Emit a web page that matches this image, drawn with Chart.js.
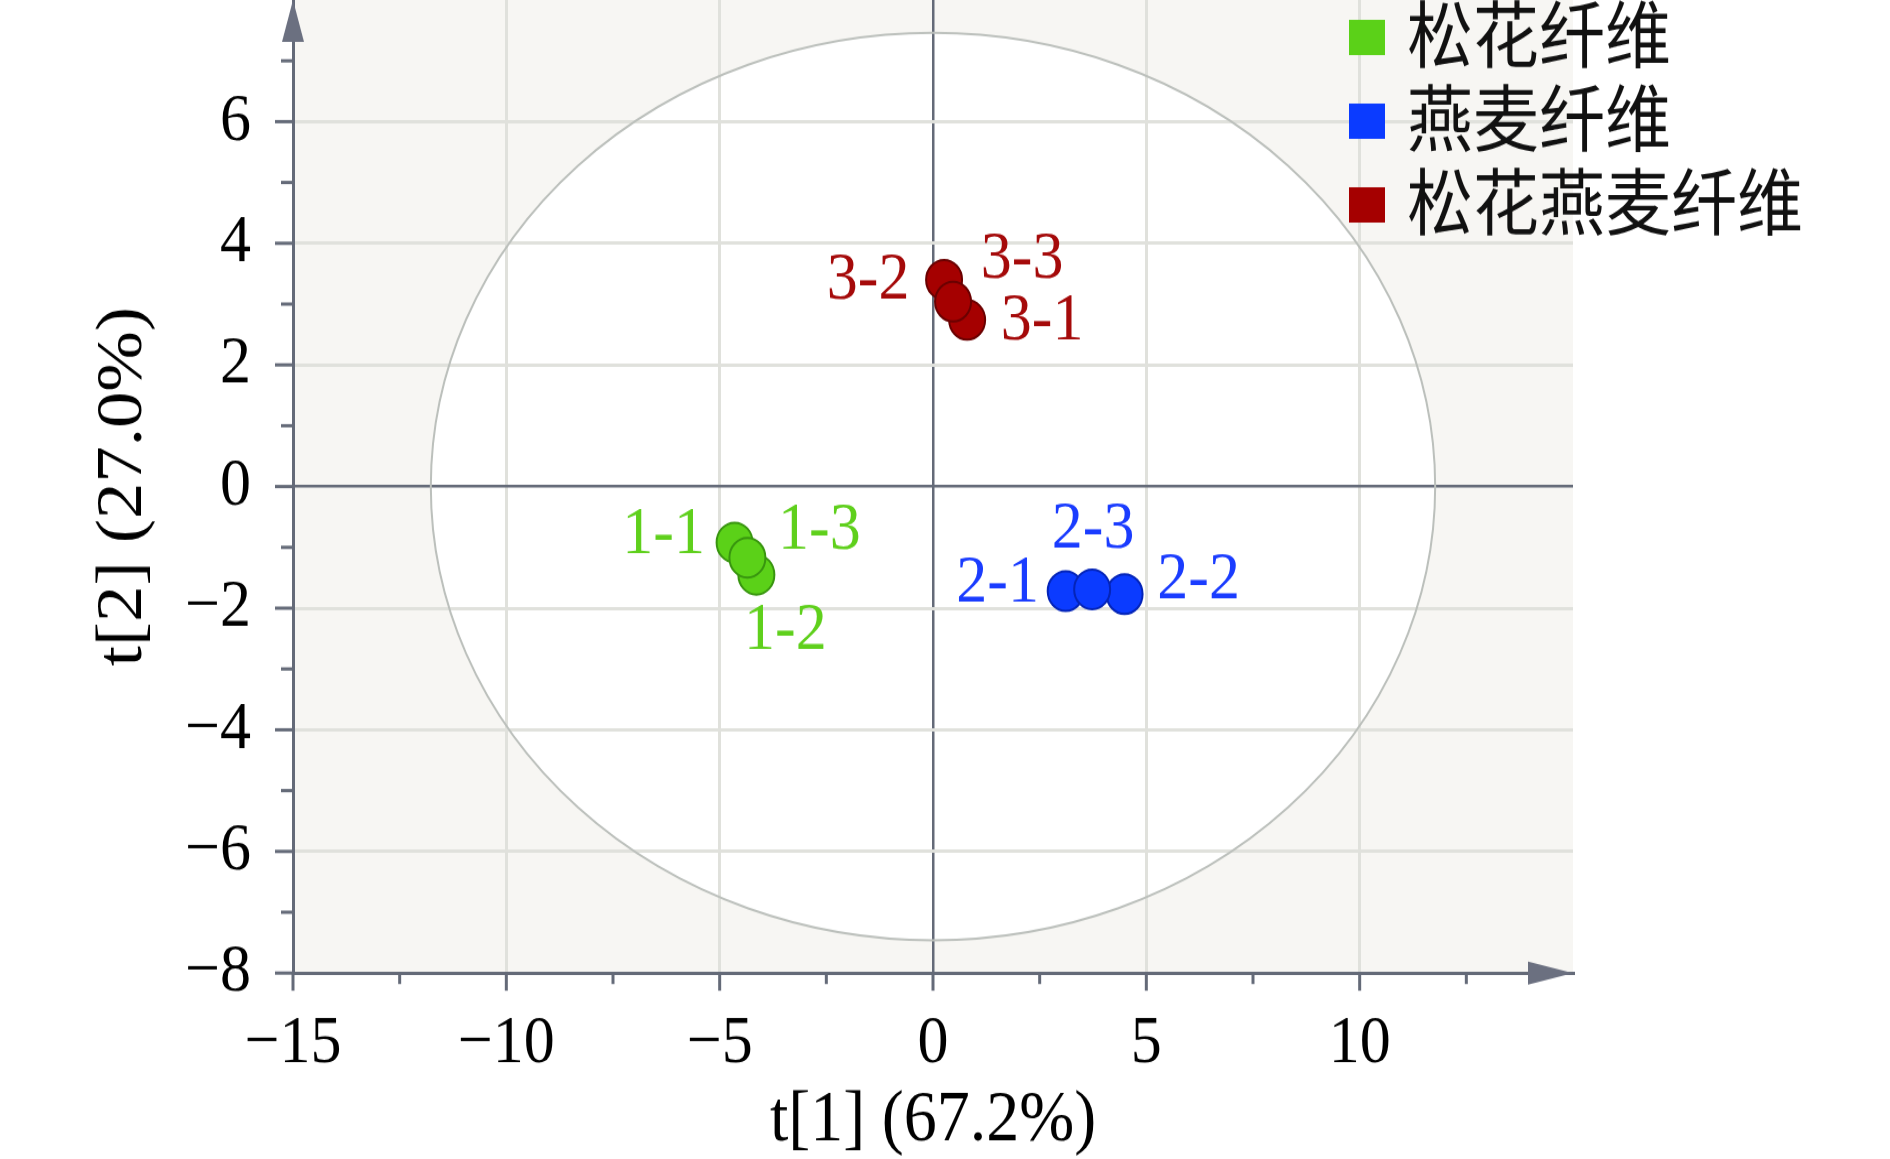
<!DOCTYPE html>
<html>
<head>
<meta charset="utf-8">
<script src="https://cdn.jsdelivr.net/npm/chart.js@4/dist/chart.umd.min.js"></script>
<style>
  html, body { margin: 0; padding: 0; background: #ffffff; }
  #c { display: block !important; width: 1890px !important; height: 1159px !important; }
</style>
</head>
<body>
<canvas id="c" width="1890" height="1052" style="width:1890px;height:1159px;display:block"></canvas>
<script>
// ---------------- data ----------------
const groupNames = ['松花纤维', '燕麦纤维', '松花燕麦纤维'];
const greenNames = ['1-1', '1-2', '1-3'];
const greenT1 = [-4.65, -4.14, -4.35];
const greenT2 = [-0.92, -1.45, -1.17];
const blueNames = ['2-1', '2-2', '2-3'];
const blueT1 = [3.11, 4.49, 3.73];
const blueT2 = [-1.72, -1.77, -1.69];
const redNames = ['3-1', '3-2', '3-3'];
const redT1 = [0.80, 0.26, 0.47];
const redT2 = [2.74, 3.40, 3.04];
const ellipseRadii = [11.77, 7.46];          // Hotelling T2 ellipse (t1, t2)
const xRange = [-15, 15];
const yRange = [-8, 8];
const xTitle = 't[1] (67.2%)';
const yTitle = 't[2] (27.0%)';

// ---------------- styles / layout ----------------
const fills = ['#5bd118', '#0b3bff', '#a50000'];
const borders = ['#38950f', '#0424b8', '#6a0000'];
const textColors = ['#5fd01c', '#1a3cff', '#a50a0a'];
const axisColor = '#646a78';
const gridColor = '#e0e1dc';
const labelOffsets = {
  '1-1': [-71, -7], '1-3': [72, -24], '1-2': [29, 51],
  '3-2': [-76, 1], '3-3': [69, -38], '3-1': [75, 1],
  '2-1': [-68, -7], '2-3': [1, -54], '2-2': [74, -13]
};

function fmt(v) { return v < 0 ? '\u2212' + Math.abs(v) : String(v); }
function pts(xs, ys) { return xs.map((v, i) => ({ x: v, y: ys[i] })); }

const datasets = [
  { label: groupNames[0], names: greenNames, data: pts(greenT1, greenT2) },
  { label: groupNames[1], names: blueNames, data: pts(blueT1, blueT2) },
  { label: groupNames[2], names: redNames, data: pts(redT1, redT2) }
].map((d, i) => Object.assign(d, {
  backgroundColor: fills[i], borderColor: borders[i], borderWidth: 2,
  pointRadius: 18, pointHoverRadius: 18
}));

const decor = {
  id: 'decor',
  beforeDraw(chart) {
    const { ctx, chartArea: a, scales: { x, y } } = chart;
    ctx.save();
    ctx.fillStyle = '#f7f6f3';
    ctx.fillRect(a.left, a.top, a.right - a.left, a.bottom - a.top);
    const cx = x.getPixelForValue(0), cy = y.getPixelForValue(0);
    const rx = x.getPixelForValue(ellipseRadii[0]) - cx;
    const ry = cy - y.getPixelForValue(ellipseRadii[1]);
    ctx.beginPath();
    ctx.ellipse(cx, cy, rx, ry, 0, 0, Math.PI * 2);
    ctx.fillStyle = '#ffffff';
    ctx.fill();
    ctx.restore();
  },
  beforeDatasetsDraw(chart) {
    const { ctx, chartArea: a, scales: { x, y } } = chart;
    ctx.save();
    const cx = x.getPixelForValue(0), cy = y.getPixelForValue(0);
    const rx = x.getPixelForValue(ellipseRadii[0]) - cx;
    const ry = cy - y.getPixelForValue(ellipseRadii[1]);
    ctx.beginPath();
    ctx.ellipse(cx, cy, rx, ry, 0, 0, Math.PI * 2);
    ctx.strokeStyle = '#bcc0bc';
    ctx.lineWidth = 2;
    ctx.stroke();
    ctx.strokeStyle = axisColor;
    ctx.lineWidth = 3;
    x.ticks.forEach(t => {
      if (t.value >= xRange[1]) return;
      const px = x.getPixelForValue(t.value);
      const len = (t.value % 5 === 0) ? 16 : 10;
      ctx.beginPath(); ctx.moveTo(px, a.bottom); ctx.lineTo(px, a.bottom + len); ctx.stroke();
    });
    y.ticks.forEach(t => {
      if (t.value >= yRange[1]) return;
      const py = y.getPixelForValue(t.value);
      const len = (t.value % 2 === 0) ? 18 : 12;
      ctx.beginPath(); ctx.moveTo(a.left - len, py); ctx.lineTo(a.left, py); ctx.stroke();
    });
    ctx.fillStyle = '#6b7080';
    ctx.beginPath();
    ctx.moveTo(a.left, a.top);
    ctx.lineTo(a.left - 11, a.top + 38);
    ctx.lineTo(a.left + 11, a.top + 38);
    ctx.closePath(); ctx.fill();
    ctx.beginPath();
    ctx.moveTo(a.right, a.bottom);
    ctx.lineTo(a.right - 45, a.bottom - 10.5);
    ctx.lineTo(a.right - 45, a.bottom + 10.5);
    ctx.closePath(); ctx.fill();
    ctx.restore();
  },
  afterDatasetsDraw(chart) {
    const { ctx } = chart;
    ctx.save();
    ctx.font = '62px "Liberation Serif"';
    ctx.textAlign = 'center';
    ctx.textBaseline = 'middle';
    chart.data.datasets.forEach((ds, i) => {
      const meta = chart.getDatasetMeta(i);
      ctx.fillStyle = textColors[i];
      meta.data.forEach((el, j) => {
        const name = ds.names[j];
        const off = labelOffsets[name] || [0, 0];
        ctx.fillText(name, el.x + off[0], el.y + off[1]);
      });
    });
    ctx.font = '66px "Noto Sans CJK SC"';
    ctx.textAlign = 'left';
    chart.data.datasets.forEach((ds, i) => {
      const cyRow = 34 + i * 76;
      ctx.fillStyle = fills[i];
      ctx.fillRect(1349, cyRow - 16, 36, 32);
      ctx.fillStyle = '#111111';
      ctx.fillText(ds.label, 1407, cyRow - 3);
    });
    ctx.restore();
  }
};

new Chart(document.getElementById('c'), {
  type: 'scatter',
  data: { datasets },
  plugins: [decor],
  options: {
    responsive: false,
    animation: false,
    devicePixelRatio: 1,
    layout: { autoPadding: false, padding: { left: 0, right: 317, top: 0, bottom: 0 } },
    plugins: { legend: { display: false }, tooltip: { enabled: false } },
    scales: {
      x: {
        type: 'linear', min: xRange[0], max: xRange[1],
        afterFit(s) { s.height = 168.8; s.paddingLeft = 0; s.paddingRight = 0; },
        border: { display: true, color: axisColor, width: 3 },
        grid: {
          drawTicks: false,
          color: c => { const v = c.tick.value; if (v === 0) return axisColor; if (v % 5 === 0 && v > xRange[0] && v < xRange[1]) return gridColor; return 'rgba(0,0,0,0)'; },
          lineWidth: c => (c.tick.value === 0 ? 2.5 : 3)
        },
        ticks: {
          stepSize: 2.5, autoSkip: false, maxRotation: 0, minRotation: 0,
          padding: 27, color: '#000',
          font: { family: 'Liberation Serif', size: 62 },
          callback: v => (v % 5 === 0 && v < xRange[1]) ? fmt(v) : ''
        },
        title: { display: true, text: xTitle, color: '#000', font: { family: 'Liberation Serif', size: 66 }, padding: { top: 0, bottom: -5 } }
      },
      y: {
        type: 'linear', min: yRange[0], max: yRange[1],
        afterFit(s) { s.width = 293; s.paddingTop = 0; s.paddingBottom = 0; },
        border: { display: true, color: axisColor, width: 3 },
        grid: {
          drawTicks: false,
          color: c => { const v = c.tick.value; if (v === 0) return axisColor; if (v % 2 === 0 && v > yRange[0] && v < yRange[1]) return gridColor; return 'rgba(0,0,0,0)'; },
          lineWidth: c => (c.tick.value === 0 ? 2.5 : 3)
        },
        ticks: {
          stepSize: 1, autoSkip: false, padding: 42, color: '#000',
          font: { family: 'Liberation Serif', size: 62 },
          callback: v => (v % 2 === 0 && v < yRange[1]) ? fmt(v) : ''
        },
        title: { display: true, text: yTitle, color: '#000', font: { family: 'Liberation Serif', size: 66 }, padding: { top: 84, bottom: 0 } }
      }
    }
  }
});
</script>
</body>
</html>
